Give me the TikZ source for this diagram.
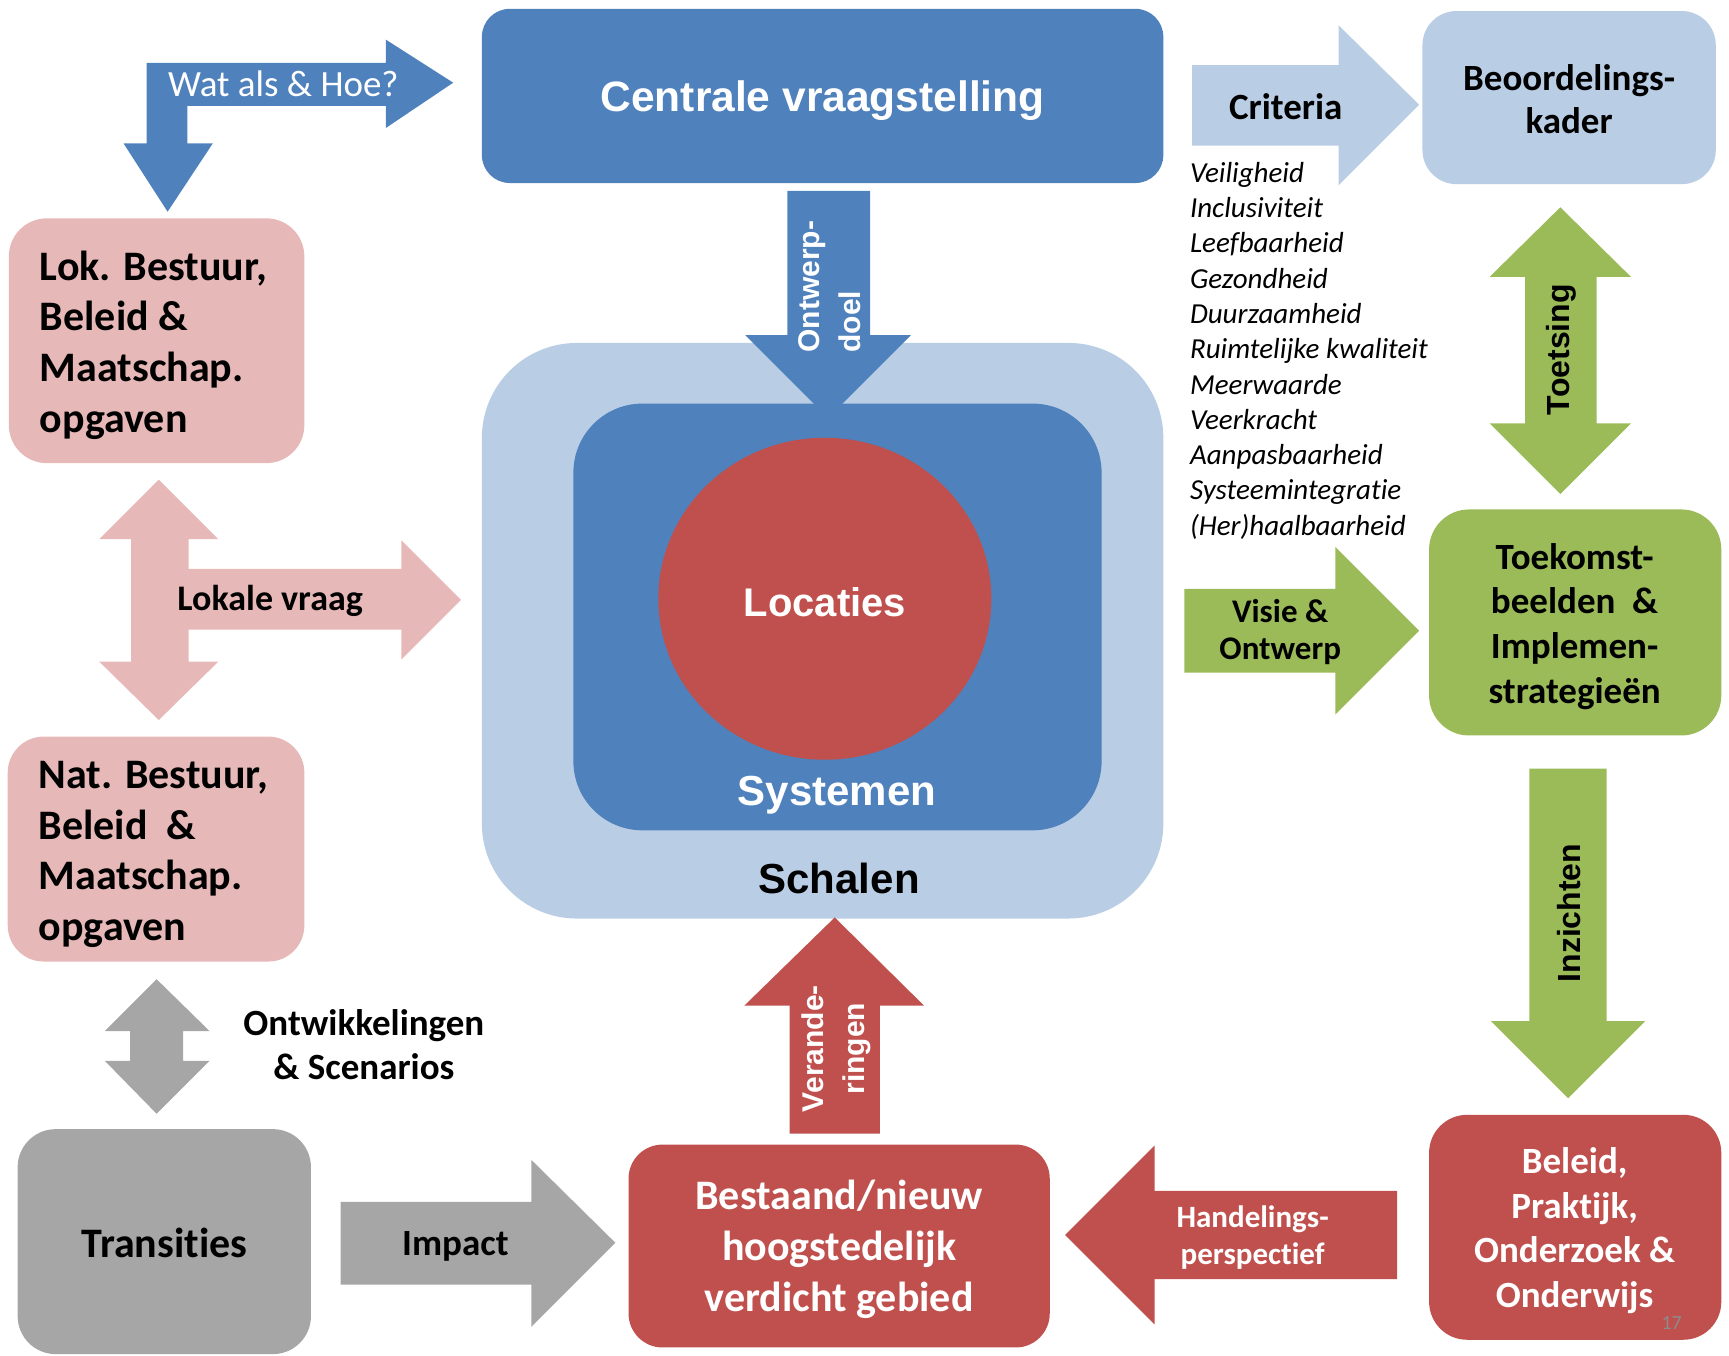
\documentclass[tikz,border=0pt]{standalone}
\usepackage{fontspec}
\setmainfont{Carlito}[RawFeature={-liga;-clig;-calt}]
\newfontfamily\arialf{Liberation Sans}
\definecolor{cblue}{HTML}{4F81BD}
\definecolor{lblue}{HTML}{B9CDE5}
\definecolor{cpink}{HTML}{E6B9B8}
\definecolor{cred}{HTML}{C0504D}
\definecolor{cgreen}{HTML}{9BBB59}
\definecolor{cgrey}{HTML}{A6A6A6}
\begin{document}
\begin{tikzpicture}[x=1.1027pt,y=-1.1027pt,
  cal/.style n args={2}{font=\fontsize{#1}{#2}\selectfont\bfseries, inner sep=0pt, align=center},
  ari/.style n args={2}{font=\arialf\fontsize{#1}{#2}\selectfont\bfseries, inner sep=0pt, align=center}]
\useasboundingbox (0,0) rectangle (1568,1229);

% ---- central column
\fill[cblue, rounded corners=28pt] (437,8) rectangle (1055,166);
\node[ari={42.5}{50}, text=white] (centrale) at (746,91) {Centrale vraagstelling};

\fill[lblue, rounded corners=95pt] (437,311) rectangle (1055,833);
\fill[cblue, rounded corners=69pt] (520,366) rectangle (999,753);
\fill[cblue] (714,173) -- (789,173) -- (789,304) -- (826,304) -- (751,379) -- (676,304) -- (714,304) -- cycle;
\fill[cred] (748,543) ellipse [x radius=151, y radius=146];
\node[ari={40}{48}, text=white] (locaties) at (748,546) {Locaties};
\node[ari={42}{50}, text=white] (systemen) at (759,721) {Systemen};
\node[ari={42}{50}] (schalen) at (761,797) {Schalen};
\node[ari={30}{41}, text=white, rotate=90, align=left] (odoel) at (752,260) {Ontwerp-\\doel};

% ---- Wat als & Hoe
\fill[cblue] (133,57) -- (350,57) -- (350,36) -- (411,75) -- (350,116) -- (350,96) -- (170,96) -- (170,130) -- (193,130) -- (152,192) -- (112,130) -- (133,130) -- cycle;
\node[font=\fontsize{37}{44}\selectfont, text=white, inner sep=0pt] (watals) at (257,76) {Wat als \& Hoe?};

% ---- left boxes
\fill[cpink, rounded corners=38pt] (8,198) rectangle (276,420);
\node[cal={42}{50.7}, align=left, anchor=west] (lok) at (36,313) {Lok. Bestuur,\\Beleid \&\\Maatschap.\\opgaven};
\fill[cpink, rounded corners=36pt] (7,668) rectangle (276,872);
\node[cal={42}{50.7}, align=left, anchor=west] (nat) at (35,775) {Nat. Bestuur,\\Beleid\ \ \&\\Maatschap.\\opgaven};

\fill[cpink] (144,435) -- (198,489) -- (171,489) -- (171,516) -- (364,516) -- (364,490) -- (418,544) -- (364,598) -- (364,571) -- (171,571) -- (171,600) -- (198,600) -- (144,653) -- (90,600) -- (119,600) -- (119,489) -- (90,489) -- cycle;
\node[cal={36}{43}] (lokvraag) at (245,545) {Lokale vraag};

\fill[cgrey] (142,888) -- (190,935) -- (166,935) -- (166,962) -- (190,962) -- (142,1010) -- (95,962) -- (118,962) -- (118,935) -- (95,935) -- cycle;
\node[cal={37}{44}] (ontw) at (330,947) {Ontwikkelingen\\\& Scenarios};

\fill[cgrey, rounded corners=38pt] (16,1024) rectangle (282,1228);
\node[cal={42}{50}] (trans) at (149,1127) {Transities};

\fill[cgrey] (309,1090) -- (482,1090) -- (482,1052) -- (558,1127) -- (482,1203) -- (482,1165) -- (309,1165) -- cycle;
\node[cal={37}{44}] (impact) at (413,1130) {Impact};

% ---- bottom
\fill[cred, rounded corners=34pt] (570,1038) rectangle (952,1222);
\node[cal={42}{51}, text=white] (bestaand) at (761,1133) {Bestaand/nieuw\\hoogstedelijk\\verdicht gebied};

\fill[cred] (716,1028) -- (716,912) -- (675,912) -- (757,832) -- (838,912) -- (798,912) -- (798,1028) -- cycle;
\node[ari={30}{41}, text=white, rotate=90] (verand) at (758,951) {Verande-\\ringen};

\fill[cred] (1267,1080) -- (1047,1080) -- (1047,1039) -- (966,1120) -- (1047,1201) -- (1047,1160) -- (1267,1160) -- cycle;
\node[cal={31}{37}, text=white] (handel) at (1136,1122) {Handelings-\\perspectief};

\fill[cred, rounded corners=38pt] (1296,1011) rectangle (1561,1215);
\node[cal={37}{44.7}, text=white] (beleid) at (1428,1116) {Beleid,\\Praktijk,\\Onderzoek \&\\Onderwijs};
\node[font=\fontsize{20}{24}\selectfont, text=black!45, inner sep=0pt] (nr) at (1516,1200) {17};

% ---- right column
\fill[lblue, rounded corners=34pt] (1290,10) rectangle (1556,167);
\node[cal={37}{43}] (beoord) at (1423,90) {Beoordelings-\\kader};

\fill[lblue] (1081,59) -- (1214,59) -- (1214,23) -- (1287,95) -- (1214,168) -- (1214,132) -- (1081,132) -- cycle;
\node[cal={37}{44}] (criteria) at (1166,97) {Criteria};

\node[font=\fontsize{29}{35.3}\selectfont\itshape, inner sep=0pt, align=left, anchor=west] (critlist) at (1079,318) {Veiligheid\\Inclusiviteit\\Leefbaarheid\\Gezondheid\\Duurzaamheid\\Ruimtelijke kwaliteit\\Meerwaarde\\Veerkracht\\Aanpasbaarheid\\Systeemintegratie\\(Her)haalbaarheid};

\fill[cgreen] (1415,188) -- (1479,251) -- (1448,251) -- (1448,384) -- (1479,384) -- (1415,448) -- (1351,384) -- (1383,384) -- (1383,251) -- (1351,251) -- cycle;
\node[ari={32}{40}, rotate=90] (toets) at (1416,317) {Toetsing};

\fill[cgreen, rounded corners=40pt] (1296,462) rectangle (1561,667);
\node[cal={37}{44.7}] (toekomst) at (1428,568) {Toekomst-\\beelden\ \ \&\\Implemen-\\strategieën};

\fill[cgreen] (1074,534) -- (1211,534) -- (1211,496) -- (1287,572) -- (1211,648) -- (1211,610) -- (1074,610) -- cycle;
\node[cal={33}{37.5}] (visie) at (1161,573) {Visie \&\\Ontwerp};

\fill[cgreen] (1387,697) -- (1457,697) -- (1457,926) -- (1492,926) -- (1422,996) -- (1352,926) -- (1387,926) -- cycle;
\node[ari={32}{40}, rotate=90] (inz) at (1423,828) {Inzichten};
\end{tikzpicture}
\end{document}
